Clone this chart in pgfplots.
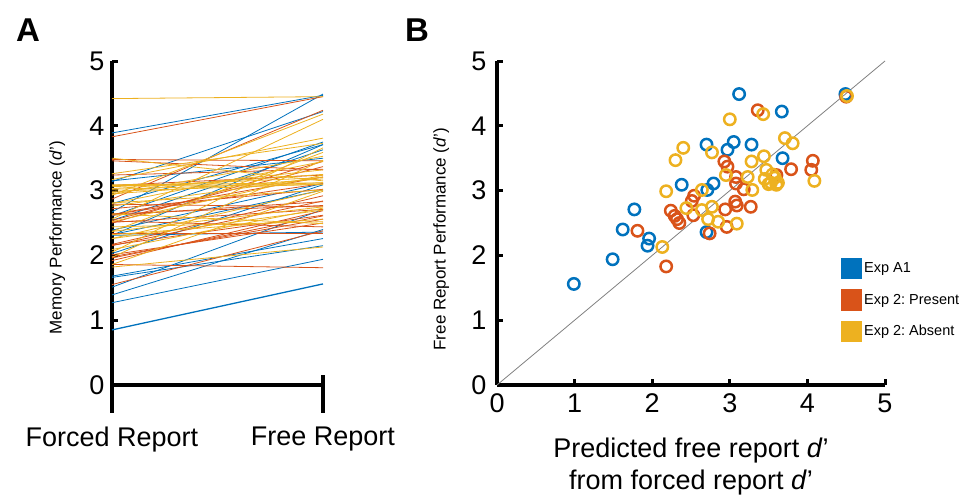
\documentclass[border=0pt]{standalone}
\usepackage{pgfplots}
\pgfplotsset{compat=1.18}
\usepackage{fontspec}
\setmainfont{Liberation Sans}
\frenchspacing

\definecolor{expblue}{HTML}{0072BD}
\definecolor{expred}{HTML}{D95319}
\definecolor{expyellow}{HTML}{EDB120}

% one participant: forced report d' (x=0) to free report d' (x=1)
\newcommand\seg[3]{\addplot[#1, line width=0.8pt, forget plot] coordinates {(0,#2) (1,#3)};}

\pgfplotsset{
  panel/.style={
    scale only axis,
    axis x line=bottom, axis y line=left,
    axis line style={-, line width=3.2pt, black},
    tick align=inside, major tick length=6pt,
    tick style={line width=3pt, black},
    tick label style={font=\fontsize{27}{32}\selectfont},
    /pgf/number format/assume math mode=true,
  },
}

\begin{document}
\begin{tikzpicture}
\path[use as bounding box] (0,0) rectangle (973pt,-501pt);

\node[font=\fontsize{33}{36}\selectfont\bfseries] at (28pt,-30pt) {A};
\node[font=\fontsize{33}{36}\selectfont\bfseries] at (417pt,-30pt) {B};

% ---------------- Panel A ----------------
\begin{axis}[panel,
  at={(112pt,-385pt)}, anchor=south west,
  width=211pt, height=324pt,
  xmin=0, xmax=1, ymin=0, ymax=5,
  xtick={0,1}, xticklabels={Forced Report, Free Report},
  xtick style={draw=none},
  ytick={0,1,2,3,4,5},
  xticklabel style={yshift=-38pt},
  yticklabel style={xshift=-4pt},
  ylabel={Memory Performance (\textit{d}’)},
  ylabel style={font=\fontsize{17}{20}\selectfont, at={(axis description cs:-0.26,0.455)}, anchor=center},
  clip=false,
]
% Exp A1
\addplot[expblue, line width=1.3pt, forget plot] coordinates {(0,0.85) (1,1.56)};
\seg{expblue}{1.27}{1.94}
\seg{expblue}{1.39}{2.40}
\seg{expblue}{1.51}{2.71}
\seg{expblue}{1.68}{2.26}
\seg{expblue}{1.66}{2.15}
\seg{expblue}{2.03}{3.09}
\seg{expblue}{2.31}{2.36}
\seg{expblue}{2.39}{3.11}
\seg{expblue}{2.32}{3.01}
\seg{expblue}{2.67}{4.49}
\seg{expblue}{3.14}{4.22}
\seg{expblue}{3.89}{4.47}
\seg{expblue}{2.31}{3.71}
\seg{expblue}{2.61}{3.75}
\seg{expblue}{2.54}{3.63}
\seg{expblue}{2.80}{3.71}
\seg{expblue}{3.15}{3.50}
% Exp 2: Present
\seg{expred}{1.55}{2.38}
\seg{expred}{1.86}{1.81}
\seg{expred}{1.92}{2.69}
\seg{expred}{1.96}{2.61}
\seg{expred}{1.98}{2.56}
\seg{expred}{2.01}{2.50}
\seg{expred}{2.17}{2.92}
\seg{expred}{2.15}{2.84}
\seg{expred}{2.16}{2.62}
\seg{expred}{2.34}{2.34}
\seg{expred}{2.51}{2.71}
\seg{expred}{2.53}{2.44}
\seg{expred}{2.62}{2.83}
\seg{expred}{2.63}{3.11}
\seg{expred}{2.79}{2.75}
\seg{expred}{2.72}{3.02}
\seg{expred}{2.87}{4.24}
\seg{expred}{3.83}{4.45}
\seg{expred}{2.50}{3.45}
\seg{expred}{2.54}{3.37}
\seg{expred}{2.63}{3.21}
\seg{expred}{3.08}{3.24}
\seg{expred}{3.24}{3.33}
\seg{expred}{3.48}{3.46}
\seg{expred}{3.46}{3.32}
\seg{expred}{2.64}{2.77}
% Exp 2: Absent
\seg{expyellow}{1.82}{2.13}
\seg{expyellow}{1.86}{2.99}
\seg{expyellow}{2.09}{2.73}
\seg{expyellow}{2.26}{3.01}
\seg{expyellow}{2.32}{2.56}
\seg{expyellow}{2.37}{2.75}
\seg{expyellow}{2.44}{2.52}
\seg{expyellow}{2.64}{2.49}
\seg{expyellow}{2.81}{3.01}
\seg{expyellow}{2.99}{3.10}
\seg{expyellow}{3.08}{3.09}
\seg{expyellow}{2.56}{4.10}
\seg{expyellow}{2.93}{4.18}
\seg{expyellow}{4.42}{4.45}
\seg{expyellow}{2.05}{3.66}
\seg{expyellow}{1.97}{3.47}
\seg{expyellow}{2.37}{3.59}
\seg{expyellow}{3.17}{3.81}
\seg{expyellow}{3.26}{3.73}
\seg{expyellow}{2.80}{3.45}
\seg{expyellow}{2.94}{3.53}
\seg{expyellow}{2.97}{3.32}
\seg{expyellow}{3.03}{3.25}
\seg{expyellow}{2.95}{3.18}
\seg{expyellow}{3.06}{3.20}
\seg{expyellow}{3.09}{3.12}
\seg{expyellow}{3.02}{3.12}
\seg{expyellow}{3.50}{3.15}
\seg{expyellow}{2.76}{3.21}
\seg{expyellow}{2.52}{3.24}
\seg{expyellow}{2.26}{2.70}
% condition ticks below the axis
\draw[line width=3.2pt, black] (axis cs:0,0) -- ++(0pt,-28pt);
\draw[line width=3.2pt, black] (axis cs:1,0) ++(0pt,10pt) -- ++(0pt,-38pt);
\end{axis}

% ---------------- Panel B ----------------
\begin{axis}[panel,
  at={(497pt,-385pt)}, anchor=south west,
  width=388pt, height=324pt,
  xmin=0, xmax=5, ymin=0, ymax=5,
  xtick={0,1,2,3,4,5}, ytick={0,1,2,3,4,5},
  xticklabel style={yshift=-5pt},
  yticklabel style={xshift=-7pt},
  xlabel={Predicted free report \textit{d}’\\from forced report \textit{d}’},
  xlabel style={align=center, font=\fontsize{27}{32}\selectfont, at={(axis description cs:0.5,0)}, anchor=north, yshift=-49pt},
  ylabel={Free Report Performance (\textit{d}’)},
  ylabel style={font=\fontsize{17}{20}\selectfont, at={(axis description cs:-0.144,0.45)}, anchor=center},
  legend cell align=left,
  legend style={draw=none, fill=none, font=\fontsize{14.5}{17}\selectfont,
    at={(rel axis cs:0.885,0.394)}, anchor=north west, row sep=10pt, inner sep=0pt},
  clip=false,
]
\addplot[gray, line width=0.8pt, forget plot] coordinates {(0,0) (5,5)};

\addplot[only marks, mark=o, mark size=5.7pt, line width=2.5pt, expblue,
  legend image code/.code={\fill[expblue] (0pt,-9.5pt) rectangle (19pt,9.5pt);}]
coordinates {
(0.99,1.56) (1.49,1.94) (1.62,2.40) (1.77,2.71) (1.96,2.26) (1.94,2.15)
(2.38,3.09) (2.70,2.36) (2.79,3.11) (2.71,3.01) (3.12,4.49) (3.67,4.22)
(4.49,4.49) (2.70,3.71) (3.05,3.75) (2.97,3.63) (3.28,3.71) (3.68,3.50)
};
\addlegendentry{Exp A1}

\addplot[only marks, mark=o, mark size=5.7pt, line width=2.5pt, expred,
  legend image code/.code={\fill[expred] (0pt,-9.5pt) rectangle (19pt,9.5pt);}]
coordinates {
(1.81,2.38) (2.18,1.83) (2.24,2.69) (2.29,2.61) (2.32,2.56) (2.35,2.50)
(2.54,2.92) (2.51,2.84) (2.53,2.62) (2.74,2.34) (2.94,2.71) (2.96,2.44)
(3.07,2.83) (3.08,3.11) (3.27,2.75) (3.18,3.02) (3.36,4.24) (4.50,4.45)
(2.93,3.45) (2.97,3.37) (3.08,3.21) (3.60,3.24) (3.79,3.33) (4.07,3.46)
(4.05,3.32) (3.09,2.77)
};
\addlegendentry{Exp 2: Present}

\addplot[only marks, mark=o, mark size=5.7pt, line width=2.5pt, expyellow,
  legend image code/.code={\fill[expyellow] (0pt,-9.5pt) rectangle (19pt,9.5pt);}]
coordinates {
(2.13,2.13) (2.18,2.99) (2.44,2.73) (2.64,3.01) (2.72,2.56) (2.77,2.75)
(2.85,2.52) (3.09,2.49) (3.29,3.01) (3.50,3.10) (3.60,3.09) (3.00,4.10)
(3.43,4.18) (4.51,4.46) (2.40,3.66) (2.30,3.47) (2.77,3.59) (3.71,3.81)
(3.81,3.73) (3.28,3.45) (3.44,3.53) (3.47,3.32) (3.55,3.25) (3.45,3.18)
(3.58,3.20) (3.62,3.12) (3.53,3.12) (4.09,3.15) (3.23,3.21) (2.95,3.24)
(2.64,2.70)
};
\addlegendentry{Exp 2: Absent}
\end{axis}
\end{tikzpicture}
\end{document}
